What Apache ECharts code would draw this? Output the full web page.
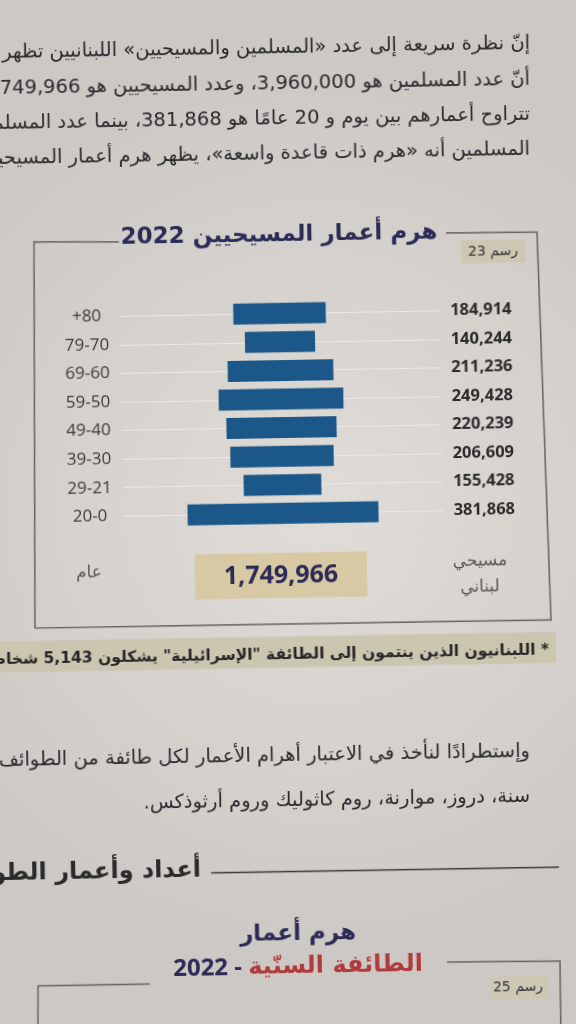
<!DOCTYPE html>
<html><head><meta charset="utf-8">
<script src="https://cdn.jsdelivr.net/npm/echarts@6/dist/echarts.min.js"></script>
<style>
html,body{margin:0;padding:0;overflow:hidden;background:#d2ceca;width:576px;height:1024px}
#c{position:absolute;left:-12px;top:-13px;width:600px;height:1050px;transform:rotate(-1deg);transform-origin:300px 525px}
</style>
</head><body><div id="c"></div>
<script>
// ---- data ----
const categories = ['+80','79-70','69-60','59-50','49-40','39-30','29-21','20-0'];
const values = [184914,140244,211236,249428,220239,206609,155428,381868];
const valueLabels = values.map(v => v.toLocaleString('en-US'));
const totalLabel = values.reduce((a,b)=>a+b,0).toLocaleString('en-US');

// ---- texts ----
const paraTop = [
  'إنّ نظرة سريعة إلى عدد «المسلمين والمسيحيين» اللبنانيين تظهر',
  'أنّ عدد المسلمين هو 3,960,000، وعدد المسيحيين هو 1,749,966،',
  'تتراوح أعمارهم بين يوم و 20 عامًا هو 381,868، بينما عدد المسلمين',
  'المسلمين أنه «هرم ذات قاعدة واسعة»، يظهر هرم أعمار المسيحيين'
];
const title1 = 'هرم أعمار المسيحيين 2022';
const fig1 = 'رسم 23';
const leftFoot = 'عام';
const rightFoot = ['مسيحي','لبناني'];
const footnote = '* اللبنانيون الذين ينتمون إلى الطائفة "الإسرائيلية" يشكلون 5,143 شخاصًا';
const paraBottom = [
  'وإستطرادًا لنأخذ في الاعتبار أهرام الأعمار لكل طائفة من الطوائف',
  'سنة، دروز، موارنة، روم كاثوليك وروم أرثوذكس.'
];
const heading = 'أعداد وأعمار الطوائف';
const title2a = 'هرم أعمار';
const title2b = 'الطائفة السنّية';
const title2c = '2022 - ';
const fig2 = 'رسم 25';

// ---- helpers (photo is rotated ~1deg) ----
const CX=288, CY=512, S=Math.sin(Math.PI/180), C=Math.cos(Math.PI/180), OX=12, OY=13;
function U(x,y){ return [CX+(x-CX)*C-(y-CY)*S+OX, CY+(x-CX)*S+(y-CY)*C+OY]; }
const ar = s => '\u202B' + s + '\u202C';
const ltr = s => '\u202A' + s + '\u202C';
const AR = '"DejaVu Sans", sans-serif';
const LAT = '"Open Sans", "DejaVu Sans", sans-serif';
function txt(x,y,text,style){ const p=U(x,y); return {type:'text', x:p[0], y:p[1], z:50, silent:true,
  style:Object.assign({text:text, verticalAlign:'middle', align:'right', fill:'#2a2a2e', fontFamily:AR, fontSize:19.5}, style)}; }
function pl(pts,style){ return {type:'polyline', z:40, silent:true, shape:{points:pts.map(p=>U(p[0],p[1]))},
  style:Object.assign({fill:null, stroke:'#66635f', lineWidth:1.5}, style)}; }
function box(x1,y1,x2,y2,fill){ const c=U((x1+x2)/2,(y1+y2)/2), w=x2-x1, h=y2-y1;
  return {type:'rect', z:30, silent:true, shape:{x:c[0]-w/2, y:c[1]-h/2, width:w, height:h}, style:{fill:fill}}; }

const BLUE = '#1b5788';
const NAVY = '#2c2a56';
const RED = '#b13a3d';

const elements = [
  {type:'rect', z:-10, silent:true, shape:{x:0,y:0,width:600,height:1050},
   style:{fill:new echarts.graphic.RadialGradient(0.55,0.5,0.75,[{offset:0,color:'#e0dcd8'},{offset:1,color:'#ccc8c4'}])}},
  // top paragraph
  txt(530, 44, ar(paraTop[0])),
  txt(530, 80, ar(paraTop[1])),
  txt(530, 115, ar(paraTop[2])),
  txt(530, 150, ar(paraTop[3])),
  // box 1
  pl([[119,242],[34,242],[35,628],[551,620],[537,232],[446,233]]),
  txt(279, 235, ar(title1), {align:'center', fontSize:23, fontWeight:'bold', fill:NAVY}),
  box(461,240,525,263,'#cdc8b4'),
  txt(493, 251.5, ar(fig1), {align:'center', fontSize:14, fill:'#333'}),
  // total row
  box(195,553,367,598,'#d6c9a3'),
  txt(281, 576, totalLabel, {align:'center', fontSize:25, fontWeight:'bold', fontFamily:LAT, fill:NAVY}),
  txt(89, 573, ar(leftFoot), {align:'center', fontSize:17, fill:'#5a5856'}),
  txt(480, 561, ar(rightFoot[0]), {align:'center', fontSize:17, fill:'#5a5856'}),
  txt(480, 587, ar(rightFoot[1]), {align:'center', fontSize:17, fill:'#5a5856'}),
  // footnote band
  box(-30,637,556,668,'#cbc6b0'),
  txt(549, 650, ar(footnote), {fontSize:15.5, fontWeight:'bold', fill:'#262626'}),
  // bottom paragraph
  txt(530, 752, ar(paraBottom[0])),
  txt(530, 797, ar(paraBottom[1])),
  // heading
  txt(201, 870, ar(heading), {fontSize:24, fontWeight:'bold', fill:'#2a2a2a'}),
  pl([[211,873],[559,867]], {stroke:'#3a3a3a', lineWidth:1.5}),
  // second chart title
  txt(298, 934, ar(title2a), {align:'center', fontSize:23, fontWeight:'bold', fill:NAVY}),
  (function(){ const p=U(298,967); return {type:'text', x:p[0], y:p[1], z:50, silent:true,
    style:{text:'{n|'+title2c+'}{r|'+ar(title2b)+'}', align:'center', verticalAlign:'middle',
      rich:{n:{fontFamily:LAT, fontSize:24, fontWeight:'bold', fill:NAVY},
            r:{fontFamily:AR, fontSize:24, fontWeight:'bold', fill:RED}}}}; })(),
  pl([[150,984],[38,986],[38,1045]]),
  pl([[447,962],[560,961],[561,1045]]),
  box(490,976,547,999,'#cdc8b4'),
  txt(518, 987, ar(fig2), {align:'center', fontSize:14, fill:'#333'})
];

const chart = echarts.init(document.getElementById('c'), null, {renderer:'canvas'});
chart.setOption({
  animation:false,
  backgroundColor:'transparent',
  grid:{left:135, right:145, top:312, bottom:509.4},
  xAxis:{type:'value', min:-320000, max:320000, show:false},
  yAxis:[
    {type:'category', data:categories, inverse:true, axisLine:{show:false}, axisTick:{show:false}, splitLine:{show:false},
     axisLabel:{margin:33, align:'center', fontSize:17, fontFamily:LAT, color:'#3a3a3a', formatter:v => ltr(v)}},
    {type:'category', data:valueLabels, inverse:true, position:'right', axisLine:{show:false}, axisTick:{show:false}, splitLine:{show:false},
     axisLabel:{margin:72, align:'right', fontSize:16.5, fontWeight:'bold', fontFamily:LAT, color:'#2b2b2b'}}
  ],
  series:[
    {type:'bar', name:'base', stack:'p', stackStrategy:'all', yAxisIndex:0, barWidth:21, silent:true,
     data: values.map(v => -v/2), itemStyle:{color:'rgba(0,0,0,0)'},
     markLine:{z:1, silent:true, symbol:'none', label:{show:false},
       lineStyle:{color:'#ebe8e4', width:1.2, type:'solid'},
       data: categories.map(c => ({yAxis:c}))}},
    {type:'bar', name:'pop', stack:'p', stackStrategy:'all', yAxisIndex:0, barWidth:21, silent:true, z:3,
     data: values, itemStyle:{color:BLUE}}
  ],
  graphic:{elements:elements}
});
</script>
</body></html>
